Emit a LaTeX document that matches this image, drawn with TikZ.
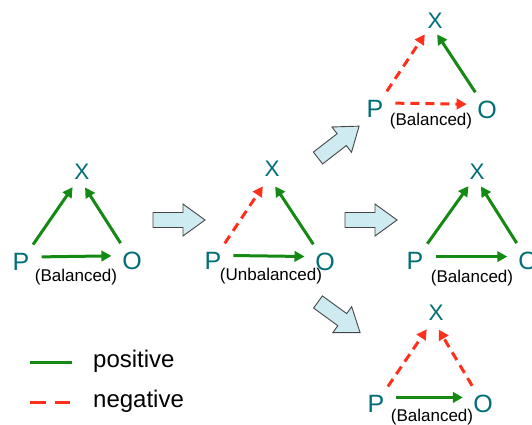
\documentclass[tikz,border=0pt]{standalone}
\usepackage{fontspec}
\setmainfont{Liberation Sans}
\usetikzlibrary{arrows.meta}
\definecolor{tealtxt}{RGB}{0,112,118}
\definecolor{posg}{RGB}{20,138,20}
\definecolor{negr}{RGB}{255,48,25}
\definecolor{afill}{RGB}{205,235,240}
\definecolor{aline}{RGB}{70,70,70}
\begin{document}
\begin{tikzpicture}[x=1pt,y=-1pt,
  vert/.style={circle,minimum size=42pt,inner sep=0pt,text=tealtxt,font=\fontsize{25}{25}\selectfont},
  xlet/.style={inner sep=0pt,text=tealtxt,font=\fontsize{22.5}{22.5}\selectfont},
  xhub/.style={circle,minimum size=22pt,inner sep=0pt},
  poslink/.style={draw=posg,line width=3pt,-{Triangle[length=10pt,width=10.5pt]}},
  neglink/.style={draw=negr,line width=3pt,dash pattern=on 9pt off 6pt,-{Triangle[length=10pt,width=10.5pt]}},
  statetxt/.style={inner sep=0pt,font=\fontsize{17}{17}\selectfont},
  legtxt/.style={inner sep=0pt,anchor=base west,font=\fontsize{24}{24}\selectfont},
  bigarrow/.pic={\draw[fill=afill,draw=aline,line width=0.9pt,line join=miter]
     (0,-7.5) -- (30,-7.5) -- (30,-16) -- (52,0) -- (30,16) -- (30,7.5) -- (0,7.5) -- cycle;}
]
\clip (0,0) rectangle (532,424);
\fill[white] (0,0) rectangle (532,424);

% ---------- triangle 1 (left) ----------
\node[xlet] (X1) at (82,172) {X};
\node[xhub] (H1) at (79,178) {};
\node[vert] (P1) at (21,262) {P};
\node[vert] (O1) at (132,261) {O};
\node[statetxt] (S1) at (76,277) {(Balanced)};
\draw[poslink] (P1) -- (H1);
\draw[poslink] (O1) -- (H1);
\draw[poslink] (P1.14) -- (O1.166);

% ---------- triangle 2 (middle) ----------
\node[xlet] (X2) at (272,169) {X};
\node[xhub] (H2) at (269,177) {};
\node[vert] (P2) at (213,261) {P};
\node[vert] (O2) at (325,262) {O};
\node[statetxt] (S2) at (271,276) {(Unbalanced)};
\draw[neglink] (P2) -- (H2);
\draw[poslink] (O2) -- (H2);
\draw[poslink] (P2.15) -- (O2.165);

% ---------- triangle 3 (top right) ----------
\node[xlet] (X3) at (435,21) {X};
\node[xhub] (H3) at (431,25) {};
\node[vert] (P3) at (375,109) {P};
\node[vert] (O3) at (487,110) {O};
\node[statetxt] (S3) at (431,121) {(Balanced)};
\draw[neglink] (P3) -- (H3);
\draw[poslink] (O3) -- (H3);
\draw[neglink] (P3.16) -- (O3.164);

% ---------- triangle 4 (middle right) ----------
\node[xlet] (X4) at (477,172) {X};
\node[xhub] (H4) at (475,177) {};
\node[vert] (P4) at (415,261) {P};
\node[vert] (O4) at (528,261) {O};
\node[statetxt] (S4) at (472,278) {(Balanced)};
\draw[poslink] (P4) -- (H4);
\draw[poslink] (O4) -- (H4);
\draw[poslink] (P4.12) -- (O4.168);

% ---------- triangle 5 (bottom right) ----------
\node[xlet] (X5) at (436,313) {X};
\node[xhub] (H5) at (433,320) {};
\node[vert] (P5) at (376,404) {P};
\node[vert] (O5) at (483,404) {O};
\node[statetxt] (S5) at (432,417) {(Balanced)};
\draw[neglink] (P5) -- (H5);
\draw[neglink] (O5) -- (H5);
\draw[poslink] (P5.18) -- (O5.162);

% ---------- block arrows ----------
\pic at (153,220) {bigarrow};
\pic at (345,220) {bigarrow};
\pic[rotate=37.8] at (318,158) {bigarrow};
\pic[rotate=-36] at (318,302) {bigarrow};

% ---------- legend ----------
\coordinate (LPa) at (30,362);
\coordinate (LPb) at (72,362);
\coordinate (LNa) at (30,402);
\coordinate (LNb) at (70,402);
\draw[draw=posg,line width=3pt] (LPa) -- (LPb);
\draw[draw=negr,line width=3pt,dash pattern=on 16pt off 9pt] (LNa) -- (LNb);
\node[legtxt] (LPt) at (93,367) {positive};
\node[legtxt] (LNt) at (93,407) {negative};
\end{tikzpicture}
\end{document}
